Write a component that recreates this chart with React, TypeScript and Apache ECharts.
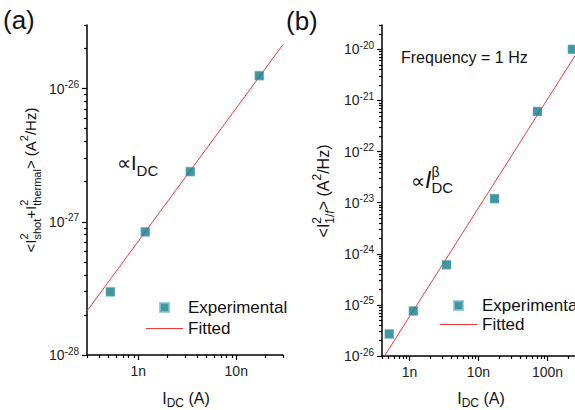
import React, { useEffect, useRef } from 'react';
import * as echarts from 'echarts';

const FONT = '"Liberation Sans", Arial, Helvetica, sans-serif';

// ---- Panel (a): shot + thermal noise (A, A^2/Hz) ----
const currentA = [0.52e-9, 1.18e-9, 3.4e-9, 17.2e-9];
const noiseA = [2.98e-28, 8.4e-28, 2.38e-27, 1.25e-26];
const fitCurrentA = [3e-10, 3e-8];
const fitNoiseA = [2.14e-28, 2.14e-26];

// ---- Panel (b): 1/f noise at 1 Hz (A, A^2/Hz) ----
const currentB = [0.51e-9, 1.14e-9, 3.44e-9, 17.1e-9, 71.6e-9, 230e-9];
const noiseB = [2.7e-26, 7.6e-26, 6.1e-25, 1.2e-23, 6.1e-22, 1.0e-20];
const fitCurrentB = [4.35e-10, 3e-7];
const fitNoiseB = [1e-26, 1.1e-20];

// ---- Axis ranges and major tick values (A, A^2/Hz) ----
const xRangeA = [3e-10, 3e-8];
const yRangeA = [1e-28, 3e-26];
const xRangeB = [4e-10, 3e-7];
const yRangeB = [1e-26, 3e-20];
const xMajorA = [1e-9, 1e-8];
const yMajorA = [1e-28, 1e-27, 1e-26];
const xMajorB = [1e-9, 1e-8, 1e-7];
const yMajorB = [1e-26, 1e-25, 1e-24, 1e-23, 1e-22, 1e-21, 1e-20];

// plotting units (the log scale handles tiny numbers badly): nA and 1e-30 A^2/Hz
const X_EXP = -9;
const Y_EXP = -30;
const sx = (v: number) => Number((v / Math.pow(10, X_EXP)).toPrecision(10));
const sy = (v: number) => Number((v / Math.pow(10, Y_EXP)).toPrecision(10));

const TEAL = '#157a8b';
const RED = '#ee3b3b';
const INK = '#111';
const LABEL = '#222';

function minorTicks(range: number[]) {
  const out: number[] = [];
  const e0 = Math.floor(Math.log10(range[0])) - 1;
  const e1 = Math.ceil(Math.log10(range[1]));
  for (let e = e0; e <= e1; e++) {
    for (let m = 2; m <= 9; m++) {
      const v = Number((m * Math.pow(10, e)).toPrecision(8));
      if (v >= range[0] * (1 - 1e-9) && v <= range[1] * (1 + 1e-9)) out.push(v);
    }
  }
  return out;
}

let ctx: CanvasRenderingContext2D | null = null;
function textWidth(t: string, size: number, italic?: boolean) {
  if (!ctx) ctx = document.createElement('canvas').getContext('2d');
  if (!ctx) return t.length * size * 0.55;
  ctx.font = `${italic ? 'italic ' : ''}${size}px ${FONT}`;
  return ctx.measureText(t).width;
}

type Seg = { t: string; size: number; italic?: boolean };
type Line = { segs: Seg[]; rise: number };
type Slot = Line[];

function buildRun(slots: Slot[], x: number, y: number, align: 'left' | 'center', rotate = false) {
  const children: any[] = [];
  let cx = 0;
  for (const slot of slots) {
    let slotW = 0;
    for (const line of slot) {
      let lx = cx;
      for (const s of line.segs) {
        const w = textWidth(s.t, s.size, s.italic);
        children.push({
          type: 'text',
          x: lx,
          y: -line.rise - 0.35 * s.size,
          style: {
            text: s.t,
            fontSize: s.size,
            fontFamily: FONT,
            fontStyle: s.italic ? 'italic' : 'normal',
            fill: INK,
            textAlign: 'left',
            textVerticalAlign: 'middle',
          },
        });
        lx += w;
      }
      slotW = Math.max(slotW, lx - cx);
    }
    cx += slotW;
  }
  const shift = align === 'center' ? -cx / 2 : 0;
  children.forEach((c) => (c.x += shift));
  return { type: 'group', x, y, rotation: rotate ? Math.PI / 2 : 0, children };
}

const M = (t: string, size: number, rise = 0, italic = false): Slot => [{ segs: [{ t, size, italic }], rise }];

function yLabel(v: number) {
  const e = Math.round(Math.log10(v)) + Y_EXP;
  return `{m|10}{s|${e}}`;
}
function xLabel(v: number) {
  return `${Math.round(v)}n`;
}

const lineStyle = { color: '#000', width: 1.5 };
const tickStyle = { color: '#000', width: 1.2 };

function axesPair(kind: 'x' | 'y', gridIndex: number, rangeRaw: number[], majorRaw: number[]) {
  const isX = kind === 'x';
  const s = isX ? sx : sy;
  const range = rangeRaw.map(s);
  const major = majorRaw.map(s);
  const minor = minorTicks(range);
  return [
    {
      type: 'log',
      logBase: 10,
      gridIndex,
      min: range[0],
      max: range[1],
      position: isX ? 'bottom' : 'left',
      axisLine: { show: true, onZero: false, lineStyle },
      axisTick: { show: true, inside: false, length: 5, lineStyle: tickStyle, customValues: major },
      axisLabel: isX
        ? { customValues: major, formatter: xLabel, margin: 9, fontSize: 14, fontFamily: FONT, color: LABEL }
        : {
            customValues: major,
            formatter: yLabel,
            margin: 8,
            color: LABEL,
            rich: {
              m: { fontSize: 14, lineHeight: 18, fontFamily: FONT, color: LABEL },
              s: { fontSize: 10, lineHeight: 10, verticalAlign: 'top', fontFamily: FONT, color: LABEL },
            },
          },
      splitLine: { show: false },
      minorTick: { show: false },
      minorSplitLine: { show: false },
    },
    {
      type: 'log',
      logBase: 10,
      gridIndex,
      min: range[0],
      max: range[1],
      position: isX ? 'bottom' : 'left',
      axisLine: { show: false, onZero: false },
      axisTick: { show: true, inside: false, length: 3, lineStyle: tickStyle, customValues: minor },
      axisLabel: { show: false },
      splitLine: { show: false },
      minorTick: { show: false },
    },
  ];
}

function zip(xs: number[], ys: number[]) {
  return xs.map((x, i) => [sx(x), sy(ys[i])]);
}

export default function App() {
  const ref = useRef<HTMLDivElement>(null);
  useEffect(() => {
    if (!ref.current) return;
    const chart = echarts.init(ref.current, undefined, { renderer: 'svg' });

    const legendCommon = {
      orient: 'vertical',
      itemWidth: 37,
      itemHeight: 9,
      selectedMode: false,
      symbolKeepAspect: true,
      textStyle: { fontSize: 17, fontFamily: FONT, color: INK },
      data: [
        { name: 'Experimental', icon: 'path://M0,0L10,0L10,10L0,10Z' },
        { name: 'Fitted', icon: 'path://M0,0L37,0L37,1L0,1Z' },
      ],
    };

    const graphics = [
      buildRun([M('(a)', 26)], 3, 29, 'left'),
      buildRun([M('(b)', 26)], 286, 30, 'left'),
      buildRun([M('Frequency = 1 Hz', 16)], 401, 63.5, 'left'),
      // proportional to I_DC (panel a)
      buildRun([M('\u221DI', 20), M('DC', 15, -6)], 117, 170, 'left'),
      // proportional to I^beta_DC (panel b)
      buildRun(
        [
          [{ segs: [{ t: '\u221D', size: 20 }, { t: 'I', size: 23, italic: true }], rise: 0 }],
          [
            { segs: [{ t: '\u03B2', size: 14 }], rise: 11 },
            { segs: [{ t: 'DC', size: 15 }], rise: -5 },
          ],
        ],
        411,
        188,
        'left'
      ),
      // x-axis titles
      buildRun([M('I', 16), M('DC', 12, -3), M(' (A)', 16)], 186, 404, 'center'),
      buildRun([M('I', 16), M('DC', 12, -3), M(' (A)', 16)], 481, 404, 'center'),
      // y-axis title (a)
      buildRun(
        [
          M('<I', 15),
          [
            { segs: [{ t: '2', size: 11 }], rise: 8 },
            { segs: [{ t: 'shot', size: 11 }], rise: -5 },
          ],
          M('+I', 15),
          [
            { segs: [{ t: '2', size: 11 }], rise: 8 },
            { segs: [{ t: 'thermal', size: 11 }], rise: -5 },
          ],
          M('> (A', 15),
          M('2', 11, 8),
          M('/Hz)', 15),
        ],
        36,
        180,
        'center',
        true
      ),
      // y-axis title (b)
      buildRun(
        [
          M('<I', 16),
          [
            { segs: [{ t: '2', size: 12 }], rise: 8 },
            { segs: [{ t: '1/', size: 12 }, { t: 'f', size: 12, italic: true }], rise: -5 },
          ],
          M('> (A', 16),
          M('2', 12, 8),
          M('/Hz)', 16),
        ],
        329,
        191,
        'center',
        true
      ),
    ];

    chart.setOption({
      animation: false,
      backgroundColor: '#fff',
      grid: [
        { left: 87, top: 25, width: 196, height: 330, containLabel: false },
        { left: 382, top: 25, width: 198.4, height: 331, containLabel: false },
      ],
      xAxis: [...axesPair('x', 0, xRangeA, xMajorA), ...axesPair('x', 1, xRangeB, xMajorB)],
      yAxis: [...axesPair('y', 0, yRangeA, yMajorA), ...axesPair('y', 1, yRangeB, yMajorB)],
      legend: [
        { ...legendCommon, left: 141, top: 294, itemGap: 4 },
        { ...legendCommon, left: 435, top: 292, itemGap: 2 },
      ],
      series: [
        {
          name: 'Fitted',
          type: 'line',
          xAxisIndex: 0,
          yAxisIndex: 0,
          data: zip(fitCurrentA, fitNoiseA),
          symbol: 'none',
          lineStyle: { color: RED, width: 1 },
          itemStyle: { color: RED },
          z: 2,
        },
        {
          name: 'Experimental',
          type: 'scatter',
          xAxisIndex: 0,
          yAxisIndex: 0,
          data: zip(currentA, noiseA),
          symbol: 'rect',
          symbolSize: 9,
          itemStyle: { color: TEAL, borderColor: '#7fc4d0', borderWidth: 0.6 },
          z: 3,
        },
        {
          name: 'Fitted',
          type: 'line',
          xAxisIndex: 2,
          yAxisIndex: 2,
          data: zip(fitCurrentB, fitNoiseB),
          symbol: 'none',
          lineStyle: { color: RED, width: 1 },
          itemStyle: { color: RED },
          z: 2,
        },
        {
          name: 'Experimental',
          type: 'scatter',
          xAxisIndex: 2,
          yAxisIndex: 2,
          data: zip(currentB, noiseB),
          symbol: 'rect',
          symbolSize: 9,
          itemStyle: { color: TEAL, borderColor: '#7fc4d0', borderWidth: 0.6 },
          z: 3,
        },
      ],
      graphic: { elements: graphics },
    });
    return () => chart.dispose();
  }, []);

  return (
    <div
      style={{
        position: 'fixed',
        left: 0,
        top: 0,
        width: 575,
        height: 410,
        overflow: 'hidden',
        background: '#fff',
      }}
    >
      <div ref={ref} style={{ width: 600, height: 410 }} />
    </div>
  );
}
